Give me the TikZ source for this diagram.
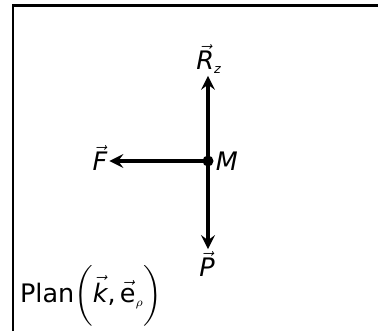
\documentclass[tikz,border=0pt]{standalone}
\usepackage{amsmath}
\usepackage{fontspec}
\setmainfont{DejaVu Sans}
\usetikzlibrary{positioning}

\begin{document}
\begin{tikzpicture}[
			x=0.02cm, y=0.02cm,
			>=stealth,
			every node/.style = {font=\fontsize{14.5}{17}\selectfont, inner sep=1pt},
			force/.style      = {->, line width=2.4pt},
			frame/.style      = {line width=1.4pt}
			]
			\useasboundingbox (0,0) rectangle (378,331);
			%--- frame ---
			\draw[frame] (13,0) -- (13,325.5) -- (378,325.5);
			
			%--- point and labels ---
			\node[circle, fill, inner sep=0pt, minimum size=0.22cm] (M) at (208,170) {};
			\node[right=0pt of M] (Mlab) {\textit{M}};
			\node (Rz) at (209,272) {$\vec{\textit{R}}_{\scriptscriptstyle\textit{z}}$};
			\node (P)  at (207,67)  {$\vec{\textit{P}}$};
			\node (F)  at (100,173) {$\vec{\textit{F}}$};
			\node[anchor=west] (plan) at (18,35)
				{Plan$\bigg(\vec{\textit{k}}\text{,}\,\vec{\text{e}}_{\scriptscriptstyle\rho}\bigg)$};
			
			%--- forces (arrows) ---
			\draw[force] (M.center) -- (M |- Rz.south);
			\draw[force] (M.center) -- (M |- P.north);
			\draw[force] (M.center) -- (M -| F.east);
		\end{tikzpicture}
\end{document}
